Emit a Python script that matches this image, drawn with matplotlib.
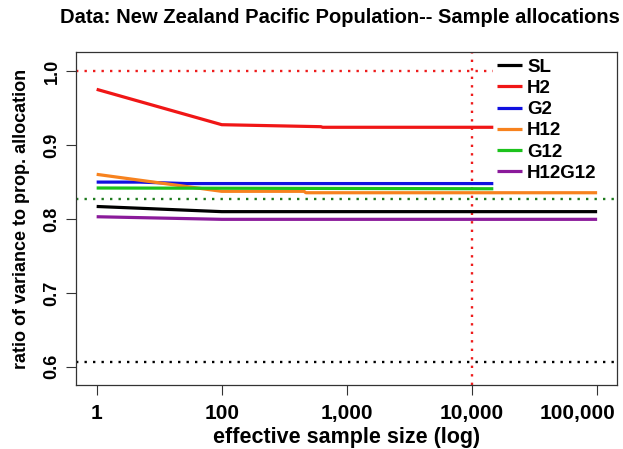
import matplotlib.pyplot as plt
from matplotlib.transforms import ScaledTranslation

# valores (tamano de muestra efectivo y razon de varianzas)
sl_n = [10, 100, 100000]
sl_y = [0.817, 0.810, 0.810]

h2_n = [10, 100, 620, 640, 14800]
h2_y = [0.9756, 0.9277, 0.925, 0.9242, 0.9242]

g2_n = [10, 22, 52, 14800]
g2_y = [0.850, 0.850, 0.848, 0.848]

h12_n = [10, 100, 455, 470, 100000]
h12_y = [0.8605, 0.8375, 0.8375, 0.8356, 0.8356]

g12_n = [10, 14800]
g12_y = [0.842, 0.841]

h12g12_n = [10, 100, 100000]
h12g12_y = [0.8031, 0.7996, 0.7996]

# lineas de referencia
ref_red_y = 1.0
ref_red_x = 10000
ref_green_y = 0.8275
ref_black_y = 0.6068

xtick_vals = [10, 100, 1000, 10000, 100000]
xtick_labels = ["1", "100", "1,000", "10,000", "100,000"]
ytick_vals = [0.6, 0.7, 0.8, 0.9, 1.0]

plt.rcParams["font.family"] = ["Liberation Sans", "DejaVu Sans"]
plt.rcParams["font.weight"] = "bold"

fig = plt.figure(figsize=(6.23, 4.49), dpi=100)
ax = fig.add_axes([0.122, 0.143, 0.868, 0.7405])
ax.set_xscale("log")

x_left, x_right = 10 ** 0.835, 10 ** 5.157
ax.set_xlim(x_left, x_right)
ax.set_ylim(0.5756, 1.0257)

dots = (0, (1, 2.6))

# lineas punteadas de referencia
ax.hlines(ref_red_y, x_left, h2_n[-1], colors="#ee1c1c", linestyles=dots, linewidth=1.7)
ax.axvline(ref_red_x, color="#ee1c1c", linestyle=dots, linewidth=1.7)
ax.axhline(ref_green_y, color="#1e7a1e", linestyle=dots, linewidth=1.7)
ax.axhline(ref_black_y, color="black", linestyle=dots, linewidth=1.7)

series = [
    ("SL", sl_n, sl_y, "black"),
    ("H2", h2_n, h2_y, "#f01616"),
    ("G2", g2_n, g2_y, "#1010e0"),
    ("H12", h12_n, h12_y, "#f7821e"),
    ("G12", g12_n, g12_y, "#1cc21c"),
    ("H12G12", h12g12_n, h12g12_y, "#8a1a9a"),
]
for nombre, xs, ys, color in series:
    ax.plot(xs, ys, color=color, linewidth=2.3, label=nombre, solid_capstyle="butt")

ax.set_xticks(xtick_vals)
ax.set_xticklabels(xtick_labels)
ax.minorticks_off()
ax.set_yticks(ytick_vals)
ax.set_yticklabels([f"{v:.1f}" for v in ytick_vals], rotation=90, va="center")
ax.tick_params(axis="both", direction="out", length=7, width=0.8, color="#333333")
ax.tick_params(axis="x", pad=7, labelsize=15)
ax.tick_params(axis="y", pad=4, labelsize=13)

# la ultima etiqueta del eje X va corrida a la izquierda como en el original
ultima = ax.get_xticklabels()[-1]
ultima.set_transform(ultima.get_transform() + ScaledTranslation(-0.2, 0, fig.dpi_scale_trans))

for sp in ax.spines.values():
    sp.set_linewidth(0.9)
    sp.set_color("#333333")

ax.set_xlabel("effective sample size (log)", fontsize=15.5, fontweight="bold", labelpad=3)
ax.set_ylabel("ratio of variance to prop. allocation", fontsize=13, fontweight="bold", labelpad=10)
fig.text(0.546, 0.962, "Data: New Zealand Pacific Population-- Sample allocations",
         ha="center", va="center", fontsize=14.5, fontweight="bold")

leg = ax.legend(loc="upper right", bbox_to_anchor=(0.987, 1.021), frameon=False,
                fontsize=13.5, handlelength=1.35, handletextpad=0.25, labelspacing=0.22,
                borderaxespad=0.3)

fig.savefig("out.png", dpi=100)
